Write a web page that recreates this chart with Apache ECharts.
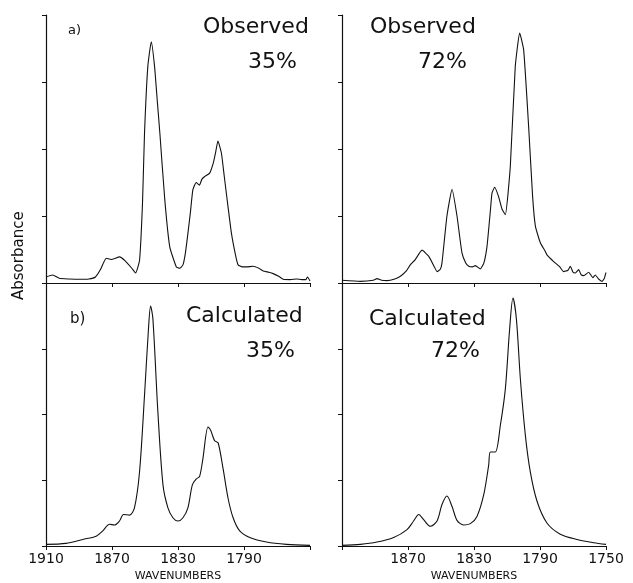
<!DOCTYPE html>
<html>
<head>
<meta charset="utf-8">
<script src="https://cdn.jsdelivr.net/npm/echarts@6/dist/echarts.min.js"></script>
<style>
  html, body { margin: 0; padding: 0; background: #fff; }
  #chart { width: 633px; height: 583px; }
</style>
</head>
<body>
<div id="chart"></div>
<script>
// wavenumber ticks shown on the bottom axes
const tickLabelsLeft = [1910, 1870, 1830, 1790];
const tickLabelsRight = [1870, 1830, 1790, 1750];

// a) observed, 35%
const obs35Wn = [1910, 1906, 1902, 1896, 1890, 1884, 1880, 1877, 1873.5, 1870.5, 1865.4, 1862, 1858, 1855.7, 1853.3, 1851.5, 1850.3, 1848.3, 1846.2, 1844.2, 1842.5, 1841, 1838, 1835, 1831, 1829, 1827, 1825.5, 1824, 1822.5, 1821, 1819, 1817, 1815.5, 1813.8, 1810.8, 1808.5, 1807.2, 1805.8, 1803.7, 1802, 1800.7, 1797.6, 1795, 1793.6, 1791, 1788.5, 1784.5, 1781, 1778.4, 1775, 1772.3, 1769, 1766.2, 1762, 1758, 1755, 1752.5, 1751.5, 1750];
const obs35Abs = [0.09, 0.12, 0.07, 0.06, 0.055, 0.06, 0.09, 0.2, 0.37, 0.35, 0.39, 0.33, 0.22, 0.15, 0.34, 1.2, 2.23, 3.23, 3.6, 3.23, 2.7, 2.24, 1.24, 0.54, 0.24, 0.22, 0.27, 0.45, 0.74, 1.05, 1.39, 1.5, 1.46, 1.55, 1.59, 1.64, 1.8, 1.95, 2.12, 1.94, 1.6, 1.34, 0.74, 0.4, 0.27, 0.24, 0.24, 0.25, 0.22, 0.18, 0.16, 0.14, 0.1, 0.055, 0.05, 0.06, 0.05, 0.05, 0.09, 0.03];

// observed, 72%
const obs72Wn = [1910, 1899, 1891, 1888.8, 1886, 1882.7, 1878, 1874.6, 1871, 1868.6, 1865.6, 1861.5, 1857.5, 1854, 1852.4, 1850.5, 1849.4, 1846.4, 1843.3, 1840.3, 1837.3, 1835, 1833.2, 1831, 1829.2, 1826.2, 1824, 1822.1, 1820, 1819.1, 1817.5, 1815.1, 1813, 1811, 1808, 1805, 1802.3, 1799.9, 1796.9, 1794.5, 1792.8, 1789.8, 1787, 1785.8, 1781.7, 1778, 1775.7, 1773, 1771.6, 1770, 1768.6, 1766.6, 1765, 1763.5, 1760.5, 1758, 1756.5, 1754.5, 1752.4, 1751, 1750];
const obs72Abs = [0.04, 0.025, 0.04, 0.065, 0.04, 0.035, 0.06, 0.1, 0.18, 0.27, 0.35, 0.49, 0.4, 0.24, 0.17, 0.2, 0.3, 1.0, 1.4, 1.0, 0.45, 0.3, 0.25, 0.24, 0.26, 0.21, 0.3, 0.55, 1.1, 1.34, 1.43, 1.29, 1.1, 1.02, 1.74, 3.23, 3.73, 3.48, 2.34, 1.3, 0.85, 0.6, 0.48, 0.42, 0.32, 0.24, 0.17, 0.19, 0.25, 0.16, 0.15, 0.2, 0.12, 0.11, 0.16, 0.08, 0.12, 0.06, 0.025, 0.07, 0.16];

// b) calculated, 35%
const calc35Wn = [1910, 1897.9, 1887.7, 1879.6, 1875.6, 1871.5, 1868.5, 1865.5, 1863, 1859.4, 1856.4, 1853.3, 1850.3, 1847.9, 1846.6, 1845.2, 1842.2, 1839.1, 1836.1, 1833.1, 1830, 1827, 1824, 1821.3, 1818.9, 1816.9, 1814.9, 1811.8, 1810.2, 1807.8, 1805.7, 1802.7, 1799.7, 1796.6, 1792.6, 1786.5, 1776.4, 1764.3, 1750];
const calc35Abs = [0.025, 0.04, 0.1, 0.15, 0.23, 0.33, 0.32, 0.38, 0.48, 0.47, 0.58, 1.13, 2.29, 3.3, 3.65, 3.45, 2.04, 0.93, 0.58, 0.43, 0.38, 0.43, 0.58, 0.93, 1.02, 1.06, 1.33, 1.81, 1.76, 1.6, 1.57, 1.18, 0.73, 0.43, 0.23, 0.13, 0.06, 0.025, 0.01];

// calculated, 72%
const calc72Wn = [1910, 1898.9, 1888.8, 1878.7, 1870.6, 1866.6, 1863.5, 1860.5, 1856.5, 1852.4, 1849.4, 1846.4, 1843.3, 1840.3, 1836.3, 1832.2, 1828.2, 1824.1, 1821.1, 1820.1, 1817.1, 1814, 1811, 1808.4, 1806.4, 1804.3, 1801.9, 1798.9, 1795.9, 1791.8, 1785.8, 1777.7, 1767.6, 1757.5, 1750];
const calc72Abs = [0.01, 0.025, 0.06, 0.13, 0.25, 0.38, 0.48, 0.4, 0.3, 0.38, 0.63, 0.76, 0.6, 0.39, 0.32, 0.34, 0.45, 0.78, 1.23, 1.43, 1.43, 1.84, 2.39, 3.3, 3.77, 3.45, 2.54, 1.69, 1.13, 0.68, 0.35, 0.18, 0.1, 0.05, 0.025];

const pair = (xs, ys) => xs.map((x, i) => [x, ys[i]]);

const black = '#111';
const plotFont = 'DejaVu Sans';

const grids = [
  { left: 46, top: 15, width: 264, height: 268 },
  { left: 342, top: 15, width: 264, height: 268 },
  { left: 46, top: 283, width: 264, height: 265 },
  { left: 342, top: 283, width: 264, height: 265 }
];

function xAxisFor (i) {
  const bottom = i >= 2;
  const shown = i === 2 ? tickLabelsLeft : tickLabelsRight;
  return {
    type: 'value',
    gridIndex: i,
    min: 1750,
    max: 1910,
    interval: 40,
    inverse: true,
    name: bottom ? 'WAVENUMBERS' : '',
    nameLocation: 'middle',
    nameGap: 25,
    nameTextStyle: { color: black, fontFamily: plotFont, fontSize: 11 },
    axisLine: { show: true, lineStyle: { color: black, width: 1.2 } },
    axisTick: { show: true, length: 4, lineStyle: { color: black } },
    axisLabel: {
      show: bottom,
      color: black,
      fontFamily: plotFont,
      fontSize: 14,
      margin: 6,
      formatter: function (v) { return shown.indexOf(v) >= 0 ? String(v) : ''; }
    },
    splitLine: { show: false }
  };
}

function yAxisFor (i) {
  return {
    type: 'value',
    gridIndex: i,
    min: 0,
    max: 4,
    interval: 1,
    axisLine: { show: true, lineStyle: { color: black, width: 1.2 } },
    axisTick: { show: true, length: 4, lineStyle: { color: black } },
    axisLabel: { show: false },
    splitLine: { show: false }
  };
}

function lineSeries (i, data, smooth) {
  return {
    type: 'line',
    xAxisIndex: i,
    yAxisIndex: i,
    data: data,
    symbol: 'none',
    smooth: smooth,
    lineStyle: { color: black, width: 1.1 },
    silent: true,
    animation: false
  };
}

function label (text, left, top, size) {
  return {
    type: 'text',
    left: left,
    top: top,
    style: { text: text, fill: black, fontFamily: plotFont, fontSize: size }
  };
}

const myChart = echarts.init(document.getElementById('chart'));
const option = {
  backgroundColor: '#fff',
  animation: false,
  grid: grids,
  xAxis: [0, 1, 2, 3].map(xAxisFor),
  yAxis: [0, 1, 2, 3].map(yAxisFor),
  series: [
    lineSeries(0, pair(obs35Wn, obs35Abs), 0.15),
    lineSeries(1, pair(obs72Wn, obs72Abs), 0.15),
    lineSeries(2, pair(calc35Wn, calc35Abs), 0.3),
    lineSeries(3, pair(calc72Wn, calc72Abs), 0.3)
  ],
  graphic: [
    label('a)', 68, 24, 13),
    label('Observed', 203, 16, 22),
    label('35%', 248, 51, 22),
    label('Observed', 370, 16, 22),
    label('72%', 418, 51, 22),
    label('b)', 70, 312, 15),
    label('Calculated', 186, 305, 22),
    label('35%', 246, 340, 22),
    label('Calculated', 369, 308, 22),
    label('72%', 431, 340, 22),
    {
      type: 'text',
      x: 12,
      y: 300,
      rotation: Math.PI / 2,
      style: { text: 'Absorbance', fill: black, fontFamily: plotFont, fontSize: 15 }
    }
  ]
};
myChart.setOption(option);
</script>
</body>
</html>
